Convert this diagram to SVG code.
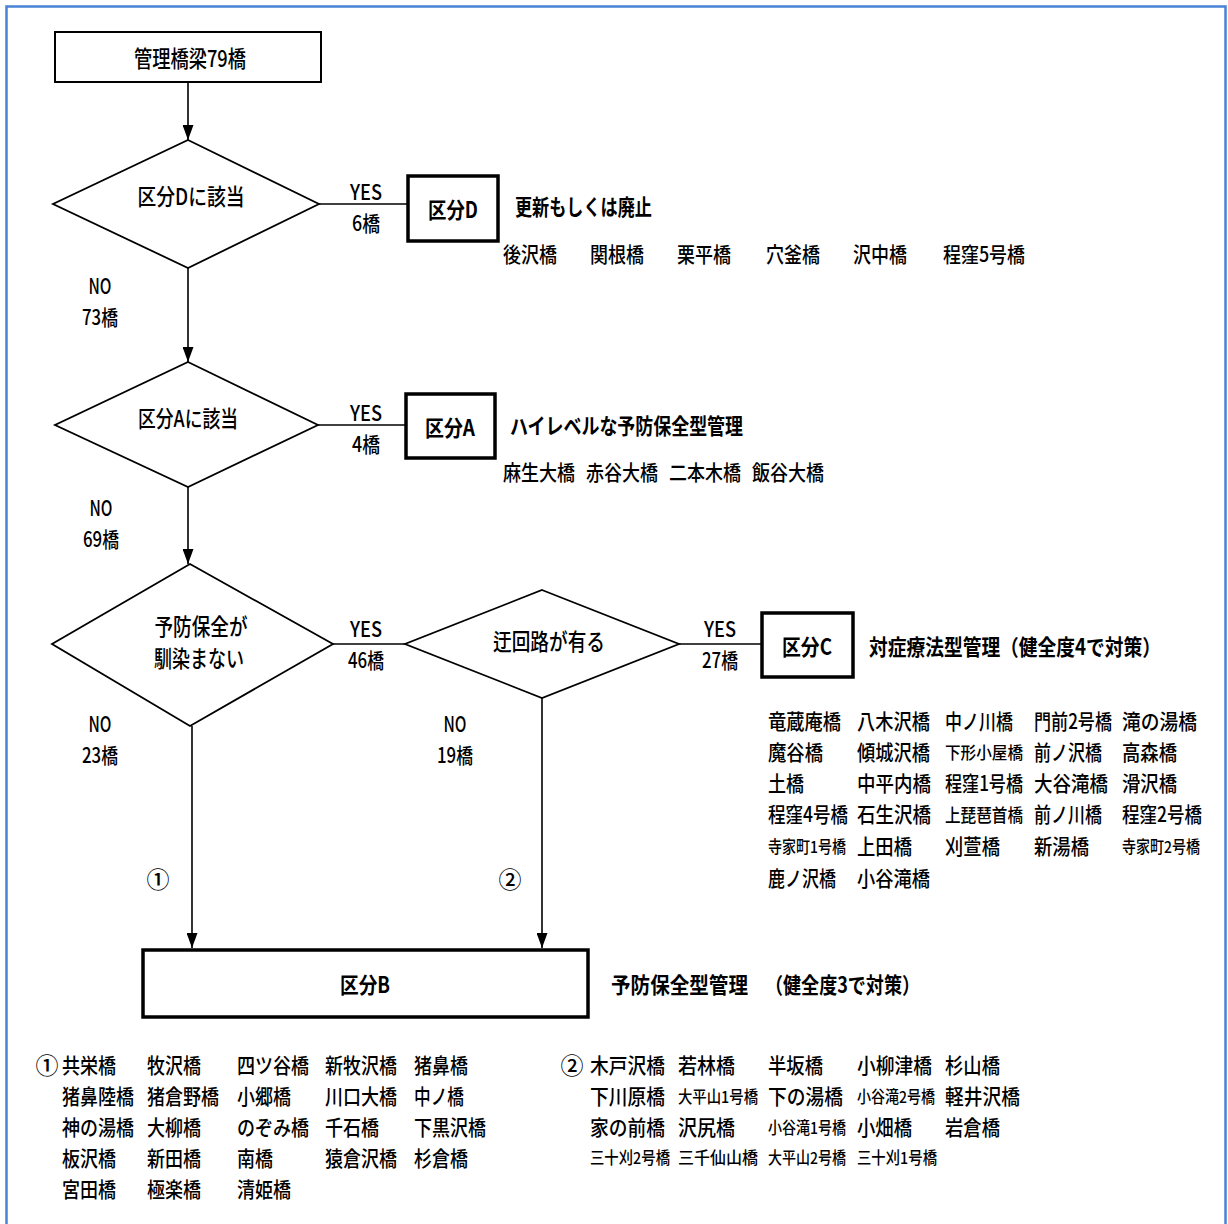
<svg xmlns="http://www.w3.org/2000/svg" width="1228" height="1224" viewBox="0 0 1228 1224">
<style>
text{font-family:"Noto Sans CJK JP","Liberation Sans",sans-serif;fill:#000;dominant-baseline:central;font-weight:500}
.n{font-size:21px}
.l{font-size:23px}
.y{font-size:21px}
.s{font-size:16.5px}
.m{font-size:18.5px}
.b{font-size:22px;font-weight:bold}
.c{text-anchor:middle}
.box{fill:#fff;stroke:#000;stroke-width:2}
.res{fill:#fff;stroke:#000;stroke-width:3.5}
.dia{fill:#fff;stroke:#000;stroke-width:1.8}
.ln{stroke:#000;stroke-width:1.6;fill:none}
</style>
<defs>
<marker id="ah" markerUnits="userSpaceOnUse" markerWidth="15" markerHeight="11" refX="15" refY="5.5" orient="auto"><path d="M0,0 L15,5.5 L0,11 z" fill="#000"/></marker>
</defs>
<rect x="6.5" y="6.5" width="1219" height="1230" fill="#fff" stroke="#4a82d6" stroke-width="2.5"/>

<g id="connectors">
<line class="ln" x1="188" y1="82" x2="188" y2="140" marker-end="url(#ah)"/>
<line class="ln" x1="188" y1="268" x2="188" y2="362" marker-end="url(#ah)"/>
<line class="ln" x1="188" y1="487" x2="188" y2="564" marker-end="url(#ah)"/>
<line class="ln" x1="192" y1="726" x2="192" y2="948" marker-end="url(#ah)"/>
<line class="ln" x1="542" y1="698" x2="542" y2="948" marker-end="url(#ah)"/>
<line class="ln" x1="319" y1="204" x2="408" y2="204"/>
<line class="ln" x1="318" y1="425" x2="406" y2="425"/>
<line class="ln" x1="333" y1="644" x2="405" y2="644"/>
<line class="ln" x1="679" y1="644" x2="762" y2="644"/>
<text class="y c" x="366" y="191" textLength="32" lengthAdjust="spacingAndGlyphs">YES</text>
<text class="y c" x="366" y="222" textLength="28" lengthAdjust="spacingAndGlyphs">6橋</text>
<text class="y c" x="100" y="285" textLength="23" lengthAdjust="spacingAndGlyphs">NO</text>
<text class="y c" x="100" y="316" textLength="36" lengthAdjust="spacingAndGlyphs">73橋</text>
<text class="y c" x="366" y="412" textLength="32" lengthAdjust="spacingAndGlyphs">YES</text>
<text class="y c" x="366" y="443" textLength="28" lengthAdjust="spacingAndGlyphs">4橋</text>
<text class="y c" x="101" y="507" textLength="23" lengthAdjust="spacingAndGlyphs">NO</text>
<text class="y c" x="101" y="538" textLength="36" lengthAdjust="spacingAndGlyphs">69橋</text>
<text class="y c" x="366" y="628" textLength="32" lengthAdjust="spacingAndGlyphs">YES</text>
<text class="y c" x="366" y="659" textLength="36" lengthAdjust="spacingAndGlyphs">46橋</text>
<text class="y c" x="100" y="723" textLength="23" lengthAdjust="spacingAndGlyphs">NO</text>
<text class="y c" x="100" y="754" textLength="36" lengthAdjust="spacingAndGlyphs">23橋</text>
<text class="y c" x="720" y="628" textLength="32" lengthAdjust="spacingAndGlyphs">YES</text>
<text class="y c" x="720" y="659" textLength="36" lengthAdjust="spacingAndGlyphs">27橋</text>
<text class="y c" x="455" y="723" textLength="23" lengthAdjust="spacingAndGlyphs">NO</text>
<text class="y c" x="455" y="754" textLength="36" lengthAdjust="spacingAndGlyphs">19橋</text>
<text class="l c" x="158" y="878">①</text>
<text class="l c" x="510" y="878">②</text>
</g>

<g id="start">
<rect class="box" x="55" y="32" width="266" height="50"/>
<text class="l c" x="190" y="57" textLength="112" lengthAdjust="spacingAndGlyphs">管理橋梁79橋</text>
</g>

<g id="decD">
<polygon class="dia" points="188,140 319,204 188,268 53,204"/>
<text class="l c" x="191" y="195" textLength="107" lengthAdjust="spacingAndGlyphs">区分Dに該当</text>
</g>

<g id="decA">
<polygon class="dia" points="188,362 318,425 188,487 55,425"/>
<text class="l c" x="188" y="417" textLength="100" lengthAdjust="spacingAndGlyphs">区分Aに該当</text>
</g>

<g id="decPrev">
<polygon class="dia" points="190,564 333,644 190,726 52,644"/>
<text class="l c" x="201" y="625" textLength="93" lengthAdjust="spacingAndGlyphs">予防保全が</text>
<text class="l c" x="199" y="657" textLength="90" lengthAdjust="spacingAndGlyphs">馴染まない</text>
</g>

<g id="decDetour">
<polygon class="dia" points="542,590 679,644 542,698 405,644"/>
<text class="l c" x="549" y="640" textLength="112" lengthAdjust="spacingAndGlyphs">迂回路が有る</text>
</g>

<g id="kubunD">
<rect class="res" x="408" y="176" width="90" height="65"/>
<text class="b c" x="453" y="208" textLength="50" lengthAdjust="spacingAndGlyphs">区分D</text>
<text class="b" x="515" y="205" textLength="137" lengthAdjust="spacingAndGlyphs">更新もしくは廃止</text>
<text class="n" x="503" y="253" textLength="54" lengthAdjust="spacingAndGlyphs">後沢橋</text>
<text class="n" x="590" y="253" textLength="54" lengthAdjust="spacingAndGlyphs">関根橋</text>
<text class="n" x="677" y="253" textLength="54" lengthAdjust="spacingAndGlyphs">栗平橋</text>
<text class="n" x="766" y="253" textLength="54" lengthAdjust="spacingAndGlyphs">穴釜橋</text>
<text class="n" x="853" y="253" textLength="54" lengthAdjust="spacingAndGlyphs">沢中橋</text>
<text class="n" x="943" y="253" textLength="82" lengthAdjust="spacingAndGlyphs">程窪5号橋</text>
</g>

<g id="kubunA">
<rect class="res" x="406" y="394" width="89" height="64"/>
<text class="b c" x="450" y="426" textLength="50" lengthAdjust="spacingAndGlyphs">区分A</text>
<text class="b" x="510" y="424" textLength="233" lengthAdjust="spacingAndGlyphs">ハイレベルな予防保全型管理</text>
<text class="n" x="503" y="471" textLength="72" lengthAdjust="spacingAndGlyphs">麻生大橋</text>
<text class="n" x="586" y="471" textLength="72" lengthAdjust="spacingAndGlyphs">赤谷大橋</text>
<text class="n" x="669" y="471" textLength="72" lengthAdjust="spacingAndGlyphs">二本木橋</text>
<text class="n" x="752" y="471" textLength="72" lengthAdjust="spacingAndGlyphs">飯谷大橋</text>
</g>

<g id="kubunC">
<rect class="res" x="762" y="613" width="91" height="64"/>
<text class="b c" x="807" y="645" textLength="50" lengthAdjust="spacingAndGlyphs">区分C</text>
<text class="b" x="869" y="645" textLength="292" lengthAdjust="spacingAndGlyphs">対症療法型管理（健全度4で対策）</text>
<text class="n" x="768" y="720" textLength="73" lengthAdjust="spacingAndGlyphs">竜蔵庵橋</text>
<text class="n" x="857" y="720" textLength="73" lengthAdjust="spacingAndGlyphs">八木沢橋</text>
<text class="n" x="945" y="720" textLength="68" lengthAdjust="spacingAndGlyphs">中ノ川橋</text>
<text class="n" x="1034" y="720" textLength="78" lengthAdjust="spacingAndGlyphs">門前2号橋</text>
<text class="n" x="1122" y="720" textLength="75" lengthAdjust="spacingAndGlyphs">滝の湯橋</text>
<text class="n" x="768" y="751" textLength="55" lengthAdjust="spacingAndGlyphs">魔谷橋</text>
<text class="n" x="857" y="751" textLength="73" lengthAdjust="spacingAndGlyphs">傾城沢橋</text>
<text class="s" x="945" y="752" textLength="78" lengthAdjust="spacingAndGlyphs">下形小屋橋</text>
<text class="n" x="1034" y="751" textLength="68" lengthAdjust="spacingAndGlyphs">前ノ沢橋</text>
<text class="n" x="1122" y="751" textLength="55" lengthAdjust="spacingAndGlyphs">高森橋</text>
<text class="n" x="768" y="782" textLength="36" lengthAdjust="spacingAndGlyphs">土橋</text>
<text class="n" x="857" y="782" textLength="74" lengthAdjust="spacingAndGlyphs">中平内橋</text>
<text class="n" x="945" y="782" textLength="78" lengthAdjust="spacingAndGlyphs">程窪1号橋</text>
<text class="n" x="1034" y="782" textLength="74" lengthAdjust="spacingAndGlyphs">大谷滝橋</text>
<text class="n" x="1122" y="782" textLength="55" lengthAdjust="spacingAndGlyphs">滑沢橋</text>
<text class="n" x="768" y="813" textLength="80" lengthAdjust="spacingAndGlyphs">程窪4号橋</text>
<text class="n" x="857" y="813" textLength="74" lengthAdjust="spacingAndGlyphs">石生沢橋</text>
<text class="m" x="945" y="814" textLength="78" lengthAdjust="spacingAndGlyphs">上琵琶首橋</text>
<text class="n" x="1034" y="813" textLength="68" lengthAdjust="spacingAndGlyphs">前ノ川橋</text>
<text class="n" x="1122" y="813" textLength="80" lengthAdjust="spacingAndGlyphs">程窪2号橋</text>
<text class="s" x="768" y="846" textLength="78" lengthAdjust="spacingAndGlyphs">寺家町1号橋</text>
<text class="n" x="857" y="845" textLength="55" lengthAdjust="spacingAndGlyphs">上田橋</text>
<text class="n" x="945" y="845" textLength="55" lengthAdjust="spacingAndGlyphs">刈萱橋</text>
<text class="n" x="1034" y="845" textLength="55" lengthAdjust="spacingAndGlyphs">新湯橋</text>
<text class="s" x="1122" y="846" textLength="78" lengthAdjust="spacingAndGlyphs">寺家町2号橋</text>
<text class="n" x="768" y="877" textLength="68" lengthAdjust="spacingAndGlyphs">鹿ノ沢橋</text>
<text class="n" x="857" y="877" textLength="73" lengthAdjust="spacingAndGlyphs">小谷滝橋</text>
</g>

<g id="kubunB">
<rect class="res" x="143" y="950" width="445" height="67"/>
<text class="b c" x="365" y="983" textLength="50" lengthAdjust="spacingAndGlyphs">区分B</text>
<text class="b" x="611" y="983" textLength="137" lengthAdjust="spacingAndGlyphs">予防保全型管理</text>
<text class="b" x="765" y="983" textLength="155" lengthAdjust="spacingAndGlyphs">（健全度3で対策）</text>
</g>

<g id="listB1">
<text class="l c" x="47" y="1064">①</text>
<text class="n" x="62" y="1064" textLength="54" lengthAdjust="spacingAndGlyphs">共栄橋</text>
<text class="n" x="147" y="1064" textLength="54" lengthAdjust="spacingAndGlyphs">牧沢橋</text>
<text class="n" x="237" y="1064" textLength="72" lengthAdjust="spacingAndGlyphs">四ツ谷橋</text>
<text class="n" x="325" y="1064" textLength="72" lengthAdjust="spacingAndGlyphs">新牧沢橋</text>
<text class="n" x="414" y="1064" textLength="54" lengthAdjust="spacingAndGlyphs">猪鼻橋</text>
<text class="n" x="62" y="1095" textLength="72" lengthAdjust="spacingAndGlyphs">猪鼻陸橋</text>
<text class="n" x="147" y="1095" textLength="72" lengthAdjust="spacingAndGlyphs">猪倉野橋</text>
<text class="n" x="237" y="1095" textLength="54" lengthAdjust="spacingAndGlyphs">小郷橋</text>
<text class="n" x="325" y="1095" textLength="72" lengthAdjust="spacingAndGlyphs">川口大橋</text>
<text class="n" x="414" y="1095" textLength="50" lengthAdjust="spacingAndGlyphs">中ノ橋</text>
<text class="n" x="62" y="1126" textLength="72" lengthAdjust="spacingAndGlyphs">神の湯橋</text>
<text class="n" x="147" y="1126" textLength="54" lengthAdjust="spacingAndGlyphs">大柳橋</text>
<text class="n" x="237" y="1126" textLength="72" lengthAdjust="spacingAndGlyphs">のぞみ橋</text>
<text class="n" x="325" y="1126" textLength="54" lengthAdjust="spacingAndGlyphs">千石橋</text>
<text class="n" x="414" y="1126" textLength="72" lengthAdjust="spacingAndGlyphs">下黒沢橋</text>
<text class="n" x="62" y="1157" textLength="54" lengthAdjust="spacingAndGlyphs">板沢橋</text>
<text class="n" x="147" y="1157" textLength="54" lengthAdjust="spacingAndGlyphs">新田橋</text>
<text class="n" x="237" y="1157" textLength="36" lengthAdjust="spacingAndGlyphs">南橋</text>
<text class="n" x="325" y="1157" textLength="72" lengthAdjust="spacingAndGlyphs">猿倉沢橋</text>
<text class="n" x="414" y="1157" textLength="54" lengthAdjust="spacingAndGlyphs">杉倉橋</text>
<text class="n" x="62" y="1188" textLength="54" lengthAdjust="spacingAndGlyphs">宮田橋</text>
<text class="n" x="147" y="1188" textLength="54" lengthAdjust="spacingAndGlyphs">極楽橋</text>
<text class="n" x="237" y="1188" textLength="54" lengthAdjust="spacingAndGlyphs">清姫橋</text>
</g>

<g id="listB2">
<text class="l c" x="572" y="1064">②</text>
<text class="n" x="590" y="1064" textLength="75" lengthAdjust="spacingAndGlyphs">木戸沢橋</text>
<text class="n" x="678" y="1064" textLength="57" lengthAdjust="spacingAndGlyphs">若林橋</text>
<text class="n" x="768" y="1064" textLength="55" lengthAdjust="spacingAndGlyphs">半坂橋</text>
<text class="n" x="857" y="1064" textLength="75" lengthAdjust="spacingAndGlyphs">小柳津橋</text>
<text class="n" x="945" y="1064" textLength="55" lengthAdjust="spacingAndGlyphs">杉山橋</text>
<text class="n" x="590" y="1095" textLength="75" lengthAdjust="spacingAndGlyphs">下川原橋</text>
<text class="s" x="678" y="1096" textLength="80" lengthAdjust="spacingAndGlyphs">大平山1号橋</text>
<text class="n" x="768" y="1095" textLength="75" lengthAdjust="spacingAndGlyphs">下の湯橋</text>
<text class="s" x="857" y="1096" textLength="78" lengthAdjust="spacingAndGlyphs">小谷滝2号橋</text>
<text class="n" x="945" y="1095" textLength="75" lengthAdjust="spacingAndGlyphs">軽井沢橋</text>
<text class="n" x="590" y="1126" textLength="75" lengthAdjust="spacingAndGlyphs">家の前橋</text>
<text class="n" x="678" y="1126" textLength="57" lengthAdjust="spacingAndGlyphs">沢尻橋</text>
<text class="s" x="768" y="1127" textLength="78" lengthAdjust="spacingAndGlyphs">小谷滝1号橋</text>
<text class="n" x="857" y="1126" textLength="55" lengthAdjust="spacingAndGlyphs">小畑橋</text>
<text class="n" x="945" y="1126" textLength="55" lengthAdjust="spacingAndGlyphs">岩倉橋</text>
<text class="s" x="590" y="1157" textLength="80" lengthAdjust="spacingAndGlyphs">三十刈2号橋</text>
<text class="s" x="678" y="1157" textLength="80" lengthAdjust="spacingAndGlyphs">三千仙山橋</text>
<text class="s" x="768" y="1157" textLength="78" lengthAdjust="spacingAndGlyphs">大平山2号橋</text>
<text class="s" x="857" y="1157" textLength="80" lengthAdjust="spacingAndGlyphs">三十刈1号橋</text>
</g>
</svg>
